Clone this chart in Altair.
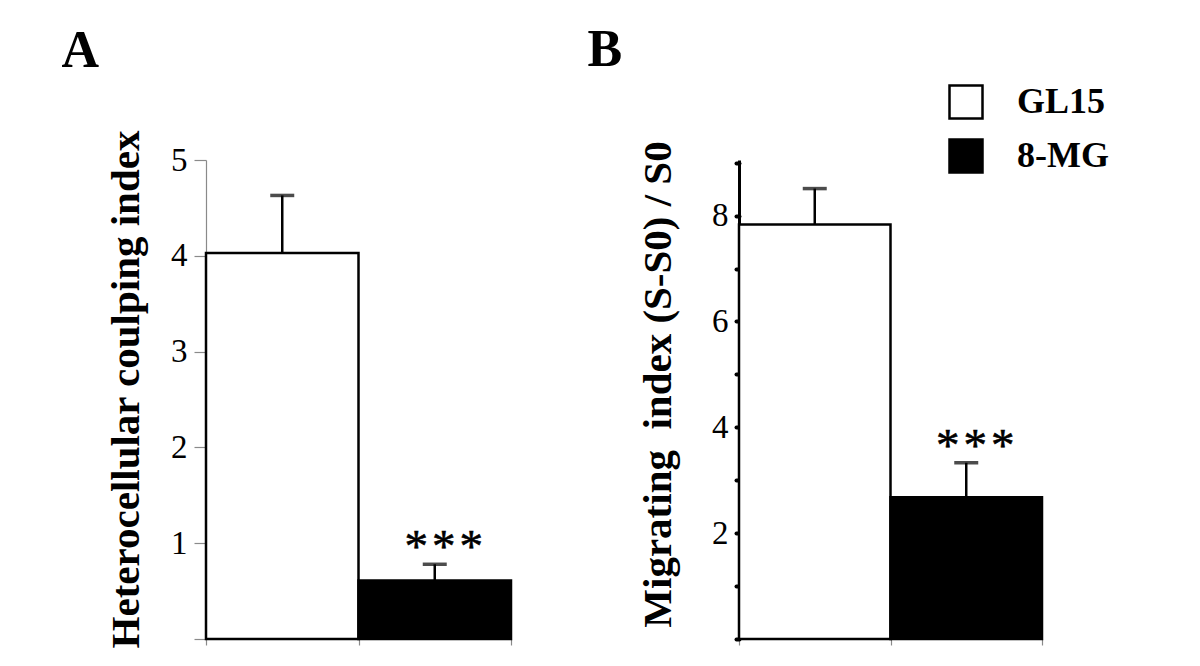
import altair as alt
import pandas as pd

groups = ["GL15", "8-MG"]
sig = ["", "*\u200a*\u200a*"]

a_mean = [4.03, 0.61]
a_upper = [4.63, 0.78]

b_mean = [7.83, 2.68]
b_upper = [8.51, 3.33]

FONT = "Liberation Serif"

df_a = pd.DataFrame({"group": groups, "mean": a_mean, "upper": a_upper, "sig": sig})
df_b = pd.DataFrame({"group": groups, "mean": b_mean, "upper": b_upper, "sig": sig})

fill_scale = alt.Scale(domain=groups, range=["white", "black"])


def panel(df, letter, ytitle, ydomain, yvalues, labelexpr, ax_style, width, height,
          title_y, title_offset, title_dx):
    xaxis = alt.Axis(
        labels=False, title=None, tickBand="extent", domainColor="#8a8a8a",
        tickColor="#8a8a8a", domainWidth=1.2, tickWidth=1.2, tickSize=6, grid=False,
    )
    xenc = alt.X("group:N", sort=groups,
                 scale=alt.Scale(paddingInner=0, paddingOuter=0), axis=xaxis)
    yscale = alt.Scale(domain=ydomain, nice=False, zero=True)
    yaxis = alt.Axis(
        values=yvalues, labelExpr=labelexpr, format="d", grid=False,
        labelFont=FONT, labelFontSize=33, labelColor="black",
        titleFont=FONT, titleFontSize=41, titleFontWeight="bold", titleColor="black",
        titleY=title_y, **ax_style,
    )
    base = alt.Chart(df).encode(x=xenc)
    bars = base.mark_bar(stroke="black", strokeWidth=2.5).encode(
        y=alt.Y("mean:Q", scale=yscale, axis=yaxis, title=ytitle),
        fill=alt.Fill("group:N", scale=fill_scale, sort=groups,
                      legend=alt.Legend(title=None)),
    )
    rule = base.mark_rule(color="black", strokeWidth=2.5).encode(
        y=alt.Y("mean:Q", title=ytitle), y2="upper:Q")
    cap = base.mark_tick(color="black", thickness=3.5, size=24, orient="horizontal").encode(
        y=alt.Y("upper:Q", title=ytitle))
    stars = base.mark_text(font=FONT, fontSize=47, baseline="alphabetic", dy=-2, dx=9,
                           color="black", stroke="black", strokeWidth=0.6).encode(
        y=alt.Y("upper:Q", title=ytitle), text="sig:N")
    return alt.layer(bars, rule, cap, stars).properties(
        width=width, height=height,
        title=alt.TitleParams(letter, font=FONT, fontSize=52, fontWeight="bold",
                              anchor="start", dx=title_dx, offset=title_offset,
                              color="black"),
    )


pa = panel(
    df_a, "A", "Heterocellular coulping index", [0, 5], [0, 1, 2, 3, 4, 5],
    "datum.value == 0 ? '' : datum.label",
    dict(domainColor="#8a8a8a", domainWidth=1.2, tickColor="#8a8a8a", tickWidth=1.2,
         tickSize=12, labelPadding=7, titlePadding=23),
    305, 479, 229, 52, -44,
)
pb = panel(
    df_b, "B", "Migrating\u00a0 index (S-S0) / S0", [0, 9.05], list(range(10)),
    "datum.value > 0 && datum.value % 2 == 0 ? datum.label : ''",
    dict(domainColor="black", domainWidth=3, tickColor="black", tickWidth=4,
         tickCap="round", tickSize=3, labelPadding=8, titlePadding=32),
    303, 479, 224, 64, -50,
)

chart = alt.hconcat(pa, pb, spacing=74).resolve_scale(fill="shared").properties(
    padding={"left": 53, "top": 15, "right": 5, "bottom": 5}, background="white"
).configure_view(stroke=None).configure_legend(
    orient="none", legendX=742, legendY=-76, symbolType="square", symbolSize=1089,
    symbolStrokeColor="black", symbolStrokeWidth=2.5, labelFont=FONT, labelFontSize=36,
    labelFontWeight="bold", labelColor="black", labelOffset=33, rowPadding=10,
)

chart.save("out.html", embed_options={"renderer": "svg", "actions": False})
